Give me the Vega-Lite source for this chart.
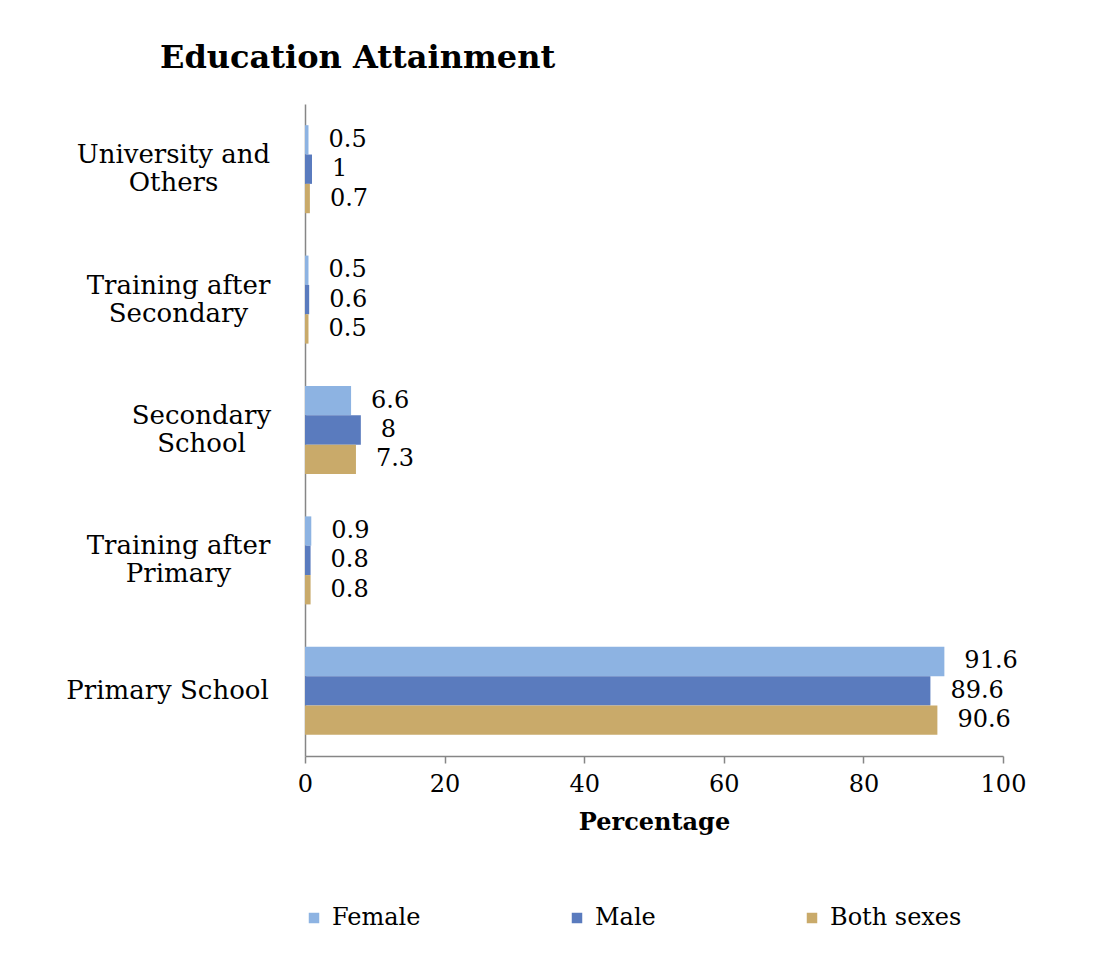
{
  "$schema": "https://vega.github.io/schema/vega-lite/v6.json",
  "autosize": {"type": "none"},
  "padding": {"left": 305, "top": 104, "right": 110, "bottom": 206},
  "width": 698,
  "height": 652,
  "background": "white",
  "title": {
    "text": "Education Attainment",
    "anchor": "start",
    "frame": "group",
    "dx": -145,
    "offset": 4,
    "baseline": "alphabetic",
    "font": "DejaVu Serif",
    "fontSize": 32,
    "fontWeight": "bold",
    "color": "black"
  },
  "data": {
    "values": [
      {"category": "University and Others", "sex": "Female", "value": 0.5},
      {"category": "University and Others", "sex": "Male", "value": 1},
      {"category": "University and Others", "sex": "Both sexes", "value": 0.7},
      {"category": "Training after Secondary", "sex": "Female", "value": 0.5},
      {"category": "Training after Secondary", "sex": "Male", "value": 0.6},
      {"category": "Training after Secondary", "sex": "Both sexes", "value": 0.5},
      {"category": "Secondary School", "sex": "Female", "value": 6.6},
      {"category": "Secondary School", "sex": "Male", "value": 8},
      {"category": "Secondary School", "sex": "Both sexes", "value": 7.3},
      {"category": "Training after Primary", "sex": "Female", "value": 0.9},
      {"category": "Training after Primary", "sex": "Male", "value": 0.8},
      {"category": "Training after Primary", "sex": "Both sexes", "value": 0.8},
      {"category": "Primary School", "sex": "Female", "value": 91.6},
      {"category": "Primary School", "sex": "Male", "value": 89.6},
      {"category": "Primary School", "sex": "Both sexes", "value": 90.6}
    ]
  },
  "encoding": {
    "y": {
      "field": "category",
      "type": "nominal",
      "sort": ["University and Others", "Training after Secondary", "Secondary School", "Training after Primary", "Primary School"],
      "scale": {"paddingInner": 0.325, "paddingOuter": 0.1625},
      "axis": {
        "title": null,
        "ticks": false,
        "tickSize": 0,
        "domainColor": "#868686",
        "domainWidth": 1.5,
        "labelFont": "DejaVu Serif",
        "labelFontSize": 26,
        "labelColor": "black",
        "labelAlign": "center",
        "labelBaseline": "middle",
        "labelLineHeight": 28,
        "labelLimit": 0,
        "labelOffset": {
          "condition": {"test": "datum.value !== 'Primary School'", "value": -14},
          "value": 0
        },
        "labelPadding": {
          "condition": [
            {"test": "datum.value === 'University and Others'", "value": 132},
            {"test": "datum.value === 'Training after Secondary'", "value": 127},
            {"test": "datum.value === 'Secondary School'", "value": 104},
            {"test": "datum.value === 'Training after Primary'", "value": 127}
          ],
          "value": 138
        },
        "labelExpr": "datum.value === 'University and Others' ? ['University and', 'Others'] : datum.value === 'Training after Secondary' ? ['Training after', 'Secondary'] : datum.value === 'Secondary School' ? ['Secondary', 'School'] : datum.value === 'Training after Primary' ? ['Training after', 'Primary'] : datum.value"
      }
    },
    "yOffset": {
      "field": "sex",
      "type": "nominal",
      "sort": ["Female", "Male", "Both sexes"],
      "scale": {"paddingInner": 0, "paddingOuter": 0}
    },
    "x": {
      "field": "value",
      "type": "quantitative",
      "scale": {"domain": [0, 100], "nice": false},
      "axis": {
        "title": "Percentage",
        "titleFont": "DejaVu Serif",
        "titleFontSize": 24,
        "titleFontWeight": "bold",
        "titleColor": "black",
        "titlePadding": 14,
        "values": [0, 20, 40, 60, 80, 100],
        "grid": false,
        "domainColor": "#868686",
        "domainWidth": 1.5,
        "tickColor": "#868686",
        "tickWidth": 1.5,
        "tickSize": 7,
        "labelFont": "DejaVu Serif",
        "labelFontSize": 24,
        "labelColor": "black",
        "labelPadding": 9,
        "labelFlush": false
      }
    }
  },
  "layer": [
    {
      "mark": {"type": "bar"},
      "encoding": {
        "color": {
          "field": "sex",
          "type": "nominal",
          "scale": {"domain": ["Female", "Male", "Both sexes"], "range": ["#8DB3E2", "#5A7BBE", "#C9AA6A"]},
          "legend": {
            "orient": "none",
            "legendX": -3,
            "legendY": 802,
            "direction": "horizontal",
            "title": null,
            "symbolType": "square",
            "symbolSize": 110,
            "symbolStrokeWidth": 0,
            "labelFont": "DejaVu Serif",
            "labelFontSize": 24,
            "labelColor": "black",
            "labelOffset": 6,
            "columnPadding": 144
          }
        }
      }
    },
    {
      "mark": {"type": "text", "align": "left", "baseline": "middle", "dx": 20, "font": "DejaVu Serif", "fontSize": 24, "color": "black"},
      "encoding": {
        "text": {"field": "value", "type": "quantitative"}
      }
    }
  ],
  "config": {"view": {"stroke": null}}
}
